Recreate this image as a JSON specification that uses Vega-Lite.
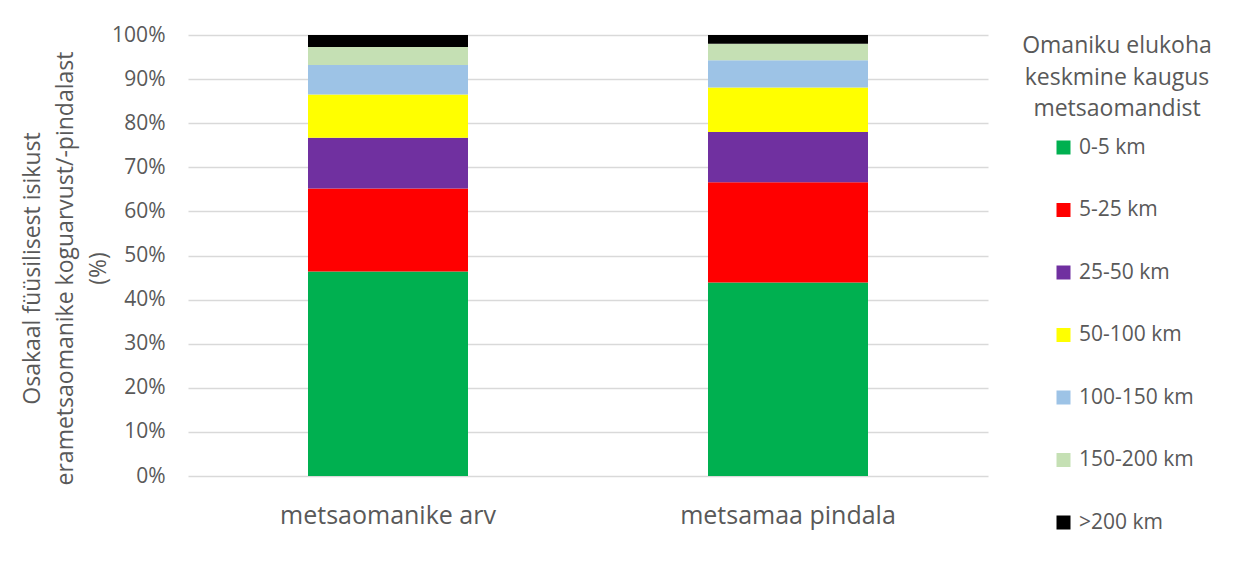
{
  "$schema": "https://vega.github.io/schema/vega-lite/v6.json",
  "width": 800,
  "height": 441,
  "autosize": "none",
  "padding": {"left": 188, "top": 35, "right": 253, "bottom": 101},
  "background": "white",
  "data": {
    "values": [
      {"cat": "metsaomanike arv", "dist": "0-5 km", "ord": 1, "value": 46.4},
      {"cat": "metsaomanike arv", "dist": "5-25 km", "ord": 2, "value": 18.8},
      {"cat": "metsaomanike arv", "dist": "25-50 km", "ord": 3, "value": 11.5},
      {"cat": "metsaomanike arv", "dist": "50-100 km", "ord": 4, "value": 9.8},
      {"cat": "metsaomanike arv", "dist": "100-150 km", "ord": 5, "value": 6.7},
      {"cat": "metsaomanike arv", "dist": "150-200 km", "ord": 6, "value": 4.1},
      {"cat": "metsaomanike arv", "dist": ">200 km", "ord": 7, "value": 2.7},
      {"cat": "metsamaa pindala", "dist": "0-5 km", "ord": 1, "value": 43.9},
      {"cat": "metsamaa pindala", "dist": "5-25 km", "ord": 2, "value": 22.7},
      {"cat": "metsamaa pindala", "dist": "25-50 km", "ord": 3, "value": 11.4},
      {"cat": "metsamaa pindala", "dist": "50-100 km", "ord": 4, "value": 10.1},
      {"cat": "metsamaa pindala", "dist": "100-150 km", "ord": 5, "value": 6.2},
      {"cat": "metsamaa pindala", "dist": "150-200 km", "ord": 6, "value": 3.7},
      {"cat": "metsamaa pindala", "dist": ">200 km", "ord": 7, "value": 2.0}
    ]
  },
  "mark": {"type": "bar"},
  "encoding": {
    "x": {
      "field": "cat",
      "type": "nominal",
      "sort": ["metsaomanike arv", "metsamaa pindala"],
      "scale": {"paddingInner": 0.6, "paddingOuter": 0.3},
      "axis": {
        "title": null,
        "labelAngle": 0,
        "labelFontSize": 25,
        "labelLimit": 0,
        "labelColor": "#595959",
        "labelPadding": 27,
        "ticks": false,
        "domain": false,
        "grid": false
      }
    },
    "y": {
      "field": "value",
      "type": "quantitative",
      "stack": "zero",
      "scale": {"domain": [0, 100], "nice": false},
      "axis": {
        "values": [0, 10, 20, 30, 40, 50, 60, 70, 80, 90, 100],
        "labelExpr": "datum.value + '%'",
        "labelFontSize": 21,
        "labelColor": "#595959",
        "labelPadding": 23,
        "ticks": false,
        "domain": false,
        "gridColor": "#d9d9d9",
        "gridWidth": 1.5,
        "title": ["Osakaal füüsilisest isikust", "erametsaomanike koguarvust/-pindalast", "(%)"],
        "titleFontSize": 23,
        "titleFontWeight": "normal",
        "titleColor": "#595959",
        "titleLineHeight": 33,
        "titleLimit": 0,
        "titleAngle": -90,
        "titleAlign": "center",
        "titleBaseline": "top",
        "titleX": -167,
        "titleY": 233
      }
    },
    "color": {
      "field": "dist",
      "type": "nominal",
      "scale": {
        "domain": ["0-5 km", "5-25 km", "25-50 km", "50-100 km", "100-150 km", "150-200 km", ">200 km"],
        "range": ["#00b050", "#ff0000", "#7030a0", "#ffff00", "#9dc3e6", "#c5e0b4", "#000000"]
      },
      "legend": {
        "orient": "none",
        "legendX": 834,
        "legendY": 0,
        "title": ["Omaniku elukoha", "keskmine kaugus", "metsaomandist"],
        "titleFontSize": 23,
        "titleFontWeight": "normal",
        "titleColor": "#595959",
        "titleLineHeight": 31.5,
        "titleLimit": 0,
        "titleAlign": "center",
        "titleAnchor": "middle",
        "titlePadding": 16,
        "symbolType": "square",
        "symbolSize": 196,
        "symbolStrokeWidth": 0,
        "symbolOffset": 12,
        "labelFontSize": 21,
        "labelColor": "#595959",
        "labelOffset": 5,
        "rowPadding": 40.5
      }
    },
    "order": {"field": "ord", "type": "quantitative"}
  },
  "config": {
    "font": "Open Sans",
    "view": {"stroke": null}
  }
}
